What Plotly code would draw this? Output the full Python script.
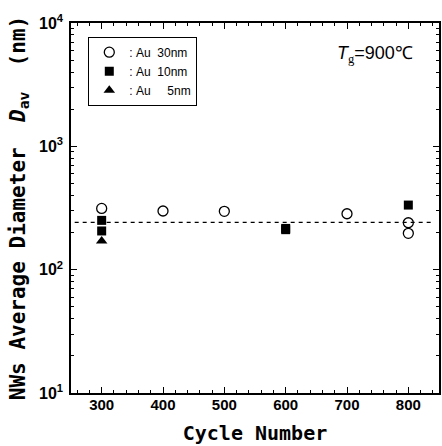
import plotly.graph_objects as go

# ---- data ----
cycles_au30 = [300, 400, 500, 700, 800, 800]
dav_au30 = [314, 299, 297, 284, 240, 197]

cycles_au10 = [300, 300, 600, 600, 800]
dav_au10 = [251, 206, 211, 216, 334]

cycles_au5 = [300]
dav_au5 = [171]

avg_line_x = [256, 837]
avg_line_y = [242, 242]

x_ticks = [300, 400, 500, 600, 700, 800]
y_ticks = [10, 100, 1000, 10000]
y_ticktext = ["10<sup>1</sup>", "10<sup>2</sup>", "10<sup>3</sup>", "10<sup>4</sup>"]

names = [":\u00a0Au\u00a0\u00a030nm", ":\u00a0Au\u00a0\u00a010nm", ":\u00a0Au\u00a0\u00a0\u00a0\u00a0\u00a05nm"]

fig = go.Figure()
fig.add_trace(go.Scatter(x=avg_line_x, y=avg_line_y, mode="lines",
                         line=dict(color="black", width=1.2, dash="4px,4px"),
                         showlegend=False, hoverinfo="skip"))
fig.add_trace(go.Scatter(x=cycles_au30, y=dav_au30, mode="markers", name=names[0],
                         marker=dict(symbol="circle-open", size=10, color="black",
                                     line=dict(width=1.3, color="black"))))
fig.add_trace(go.Scatter(x=cycles_au10, y=dav_au10, mode="markers", name=names[1],
                         marker=dict(symbol="square", size=9, color="black")))
fig.add_trace(go.Scatter(x=cycles_au5, y=dav_au5, mode="markers", name=names[2],
                         marker=dict(symbol="triangle-up", size=10, color="black")))

xtickfont = dict(family="Liberation Sans, Arial, sans-serif", size=15, color="black", weight="bold")
ytickfont = dict(family="Liberation Sans, Arial, sans-serif", size=16, color="black", weight="bold")
xtitlefont = dict(family="DejaVu Sans Mono, monospace", size=20, color="black", weight="bold")
ytitlefont = dict(family="DejaVu Sans Mono, monospace", size=21, color="black", weight="bold")

fig.update_layout(
    width=442, height=446,
    margin=dict(l=71, r=1, t=23, b=53),
    paper_bgcolor="white", plot_bgcolor="white",
    showlegend=True,
    legend=dict(x=0.047, y=0.963, xanchor="left", yanchor="top",
                bordercolor="black", borderwidth=1, bgcolor="white",
                font=dict(family="Liberation Sans, Arial, sans-serif", size=12, color="black"),
                itemwidth=30, tracegroupgap=0),
    xaxis=dict(
        range=[250, 850], tickvals=x_ticks, ticks="inside", ticklen=6, tickwidth=1,
        tickcolor="black", showline=True, linecolor="black", linewidth=1.5,
        mirror="allticks", showgrid=False, zeroline=False, tickfont=xtickfont,
        ticklabelstandoff=-3,
        minor=dict(ticks="inside", ticklen=3, dtick=20, tickcolor="black", showgrid=False),
        title=dict(text="Cycle Number", font=xtitlefont, standoff=14),
    ),
    yaxis=dict(
        type="log", range=[1, 4], tickvals=y_ticks, ticktext=y_ticktext,
        ticks="inside", ticklen=6, tickwidth=1, tickcolor="black",
        showline=True, linecolor="black", linewidth=1.5, mirror="allticks",
        showgrid=False, zeroline=False, tickfont=ytickfont, ticklabelstandoff=3,
        minor=dict(ticks="inside", ticklen=3, dtick="D1", tickcolor="black", showgrid=False),
        title=dict(text="NWs Average Diameter\u00a0\u00a0<i>D</i><sub>av</sub>\u00a0\u00a0(nm)"
                        "\u00a0\u00a0\u00a0\u00a0\u00a0\u00a0\u00a0",
                   font=ytitlefont, standoff=8),
    ),
    annotations=[dict(
        text="<i>T</i><sub><span style='font-family:Liberation Serif'>g</span></sub>=900\u2103",
        xref="paper", yref="paper", x=0.935, y=0.915, xanchor="right", yanchor="middle",
        showarrow=False, font=dict(family="Liberation Sans, Arial, sans-serif", size=18, color="black"),
    )],
)

fig.write_html("out.html", config={"displayModeBar": False},
               post_script="document.body.style.margin='0';")
